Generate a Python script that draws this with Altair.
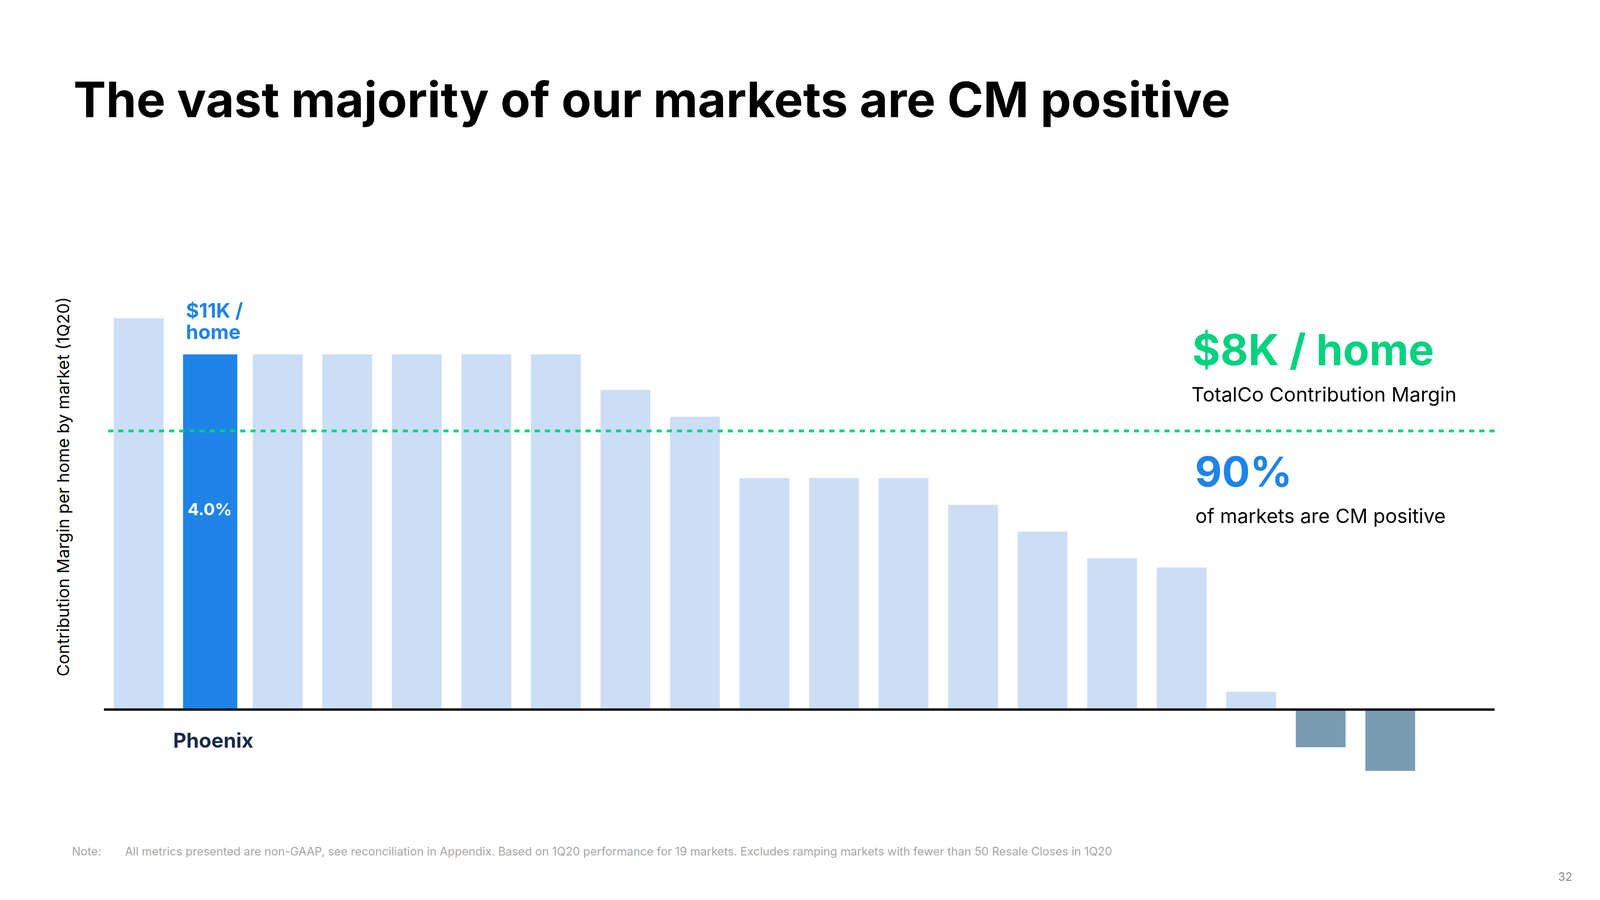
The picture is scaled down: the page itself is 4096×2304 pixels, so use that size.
import altair as alt
import pandas as pd

# ---------------- data ----------------
markets = ["Market 1", "Phoenix", "Market 3", "Market 4", "Market 5", "Market 6",
           "Market 7", "Market 8", "Market 9", "Market 10", "Market 11", "Market 12",
           "Market 13", "Market 14", "Market 15", "Market 16", "Market 17",
           "Market 18", "Market 19"]
cm_per_home_k = [12.12, 11.0, 11.0, 11.0, 11.0, 11.0, 11.0, 9.90, 9.07, 7.17, 7.17,
                 7.17, 6.34, 5.51, 4.68, 4.40, 0.55, -1.17, -1.90]
totalco_cm_k = [8.63]
highlight = ["Phoenix"]
highlight_label = ["$11K /", "home"]
highlight_share = ["4.0%"]

TITLE = "The vast majority of our markets are CM positive"
AVG_TEXT = "$8K / home"
AVG_CAPTION = "TotalCo Contribution Margin"
SHARE_TEXT = "90%"
SHARE_CAPTION = "of markets are CM positive"
Y_TITLE = "Contribution Margin per home by market (1Q20)"
NOTE_LABEL = "Note:"
NOTE_TEXT = ("All metrics presented are non-GAAP, see reconciliation in Appendix. "
             "Based on 1Q20 performance for 19 markets. Excludes ramping markets "
             "with fewer than 50 Resale Closes in 1Q20")
PAGE = "32"

df = pd.DataFrame({"market": markets, "value": cm_per_home_k})
avg_df = pd.DataFrame({"value": totalco_cm_k})
one = pd.DataFrame({"k": [0]})

# ---------------- style ----------------
LIGHT = "#CCDDF6"
DARK = "#1E84E8"
NEG = "#7A9BB2"
GREEN = "#00D27F"
NAVY = "#1B2A4B"
FONT = "Inter"

W, H = 3560, 1281
YDOM = [-2.5, 13]

x = alt.X("market:N", sort=markets, axis=None,
          scale=alt.Scale(paddingInner=0, paddingOuter=0.5, align=0))
y = alt.Y("value:Q", axis=None,
          scale=alt.Scale(domain=YDOM, nice=False, zero=False))

base = alt.Chart(df)

pos_bars = base.transform_filter(
    "datum.value >= 0 && datum.market != 'Phoenix'"
).mark_bar(color=LIGHT, width=alt.RelativeBandSize(0.716)).encode(
    x=x, y=y, y2=alt.datum(0))

neg_bars = base.transform_filter("datum.value < 0").mark_bar(
    color=NEG, width=alt.RelativeBandSize(0.716)).encode(x=x, y=y, y2=alt.datum(0))

hl = base.transform_filter(alt.FieldOneOfPredicate(field="market", oneOf=highlight))

hl_bar = hl.mark_bar(color=DARK, width=alt.RelativeBandSize(0.78), xOffset=5).encode(
    x=x, y=y, y2=alt.datum(0))

hl_label1 = hl.mark_text(text=highlight_label[0], align="left",
                         baseline="alphabetic", dx=-57, dy=-94, font=FONT,
                         fontWeight="bold", fontSize=51, color=DARK).encode(x=x, y=y)
hl_label2 = hl.mark_text(text=highlight_label[1], align="left",
                         baseline="alphabetic", dx=-57, dy=-39.5, font=FONT,
                         fontWeight="bold", fontSize=51, color=DARK).encode(x=x, y=y)

hl_share = hl.mark_text(text=highlight_share[0], align="center", baseline="alphabetic",
                        dx=4, dy=412, font=FONT, fontWeight="bold", fontSize=43,
                        color="white").encode(x=x, y=y)

hl_name = hl.mark_text(align="center", baseline="alphabetic", dx=13, dy=98, font=FONT,
                       fontWeight="bold", fontSize=52, color=NAVY).encode(
    x=x, y=alt.datum(0), text="market:N")

zero_rule = alt.Chart(one).mark_rule(color="black", strokeWidth=6).encode(
    y=alt.Y(datum=0, scale=alt.Scale(domain=YDOM, nice=False, zero=False), axis=None))

avg_rule = alt.Chart(avg_df).mark_rule(color=GREEN, strokeWidth=7,
                                       strokeDash=[13, 13]).encode(y=y)


def txt(s, px, py, size, weight="normal", color="black", align="left", angle=0,
        font=FONT):
    return alt.Chart(one).mark_text(text=s, align=align, baseline="alphabetic",
                                    fontSize=size, fontWeight=weight, color=color,
                                    angle=angle, font=font).encode(
        x=alt.value(px), y=alt.value(py))


annotations = [
    txt(TITLE, -78, -442, 125, "bold"),
    txt(AVG_TEXT, 2786, 193, 110, "bold", GREEN),
    txt(AVG_CAPTION, 2784, 286, 51),
    txt(SHARE_TEXT, 2793, 504, 106.5, "bold", DARK),
    txt(SHARE_CAPTION, 2794, 597, 50.5),
    txt(Y_TITLE, -89, 504, 43, align="center", angle=270),
    txt(NOTE_LABEL, -82, 1448, 29.5, color="#A6A6A6"),
    txt(NOTE_TEXT, 54, 1448, 29.5, color="#A6A6A6"),
    txt(PAGE, 3759, 1513, 29.5, color="#8C8C8C", align="right"),
]

chart = alt.layer(
    pos_bars, neg_bars, hl_bar, avg_rule, zero_rule,
    hl_label1, hl_label2, hl_share, hl_name, *annotations
).properties(
    width=W, height=H,
    padding={"left": 258, "top": 734, "right": 262, "bottom": 273},
    autosize=alt.AutoSizeParams(type="none"),
    background="white",
).configure_view(strokeWidth=0)

chart.save("out.html", embed_options={"renderer": "svg", "actions": False})
